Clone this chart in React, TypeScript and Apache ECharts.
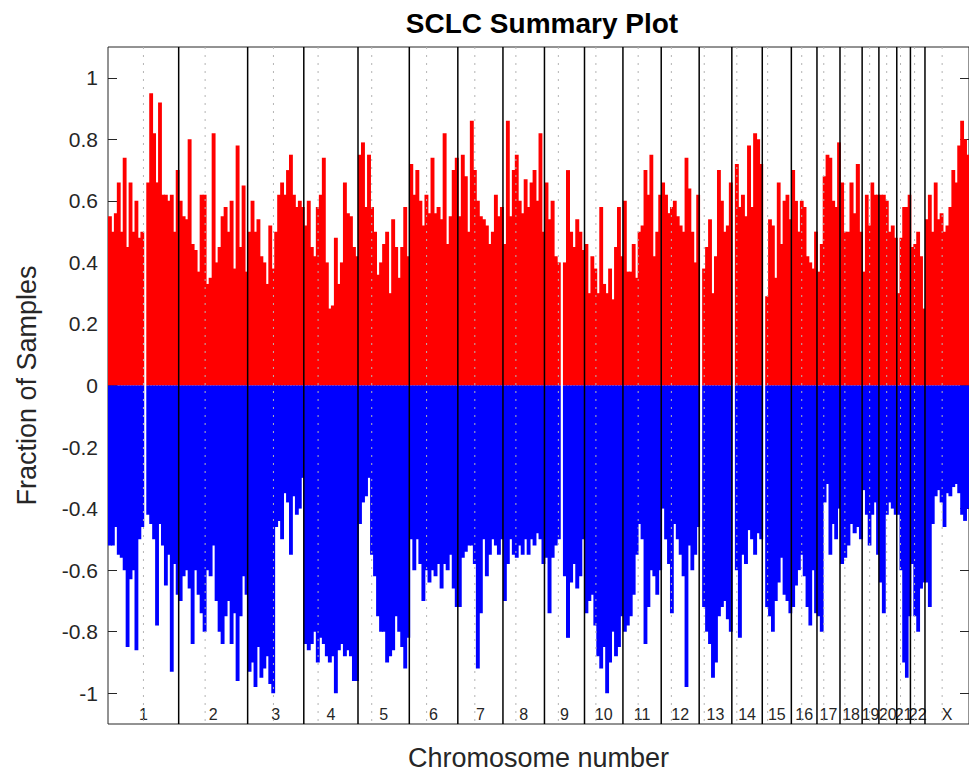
import React, { useEffect, useRef } from "react";
import * as echarts from "echarts";

// ---------- data ----------
const CHROMS = ["1","2","3","4","5","6","7","8","9","10","11","12","13","14","15","16","17","18","19","20","21","22","X"];
const CHROM_LEN_MB = [249.25,243.2,198.02,191.15,180.92,171.12,159.14,146.36,141.21,135.53,135.01,133.85,115.17,107.35,102.53,90.35,81.2,78.08,59.13,63.03,48.13,51.3,155.27];
const CENTROMERE_MB = [125.0,93.3,91.0,50.4,48.4,61.0,59.9,45.6,49.0,40.2,53.7,35.8,17.9,17.6,19.0,36.6,24.0,17.2,26.5,27.5,13.2,14.7,60.6];
const Y_TICKS = [-1,-0.8,-0.6,-0.4,-0.2,0,0.2,0.4,0.6,0.8,1];

// fraction of samples with gain, equal-width bins along each chromosome
const GAIN: number[][] = [
  [0.55,0.5,0.56,0.66,0.5,0.74,0.45,0.66,0.5,0.6,0.48,0.5,0,0.66,0.95,0.82,0.66,0.92,0.62,0.62,0.6,0.62,0.5,0.7],
  [0.6,0.55,0.54,0.8,0.46,0.44,0.37,0.62,0.62,0.33,0.35,0.82,0.4,0.45,0.55,0.58,0.5,0.6,0.38,0.78,0.45,0.65,0.37],
  [0.5,0.6,0.5,0.54,0.42,0.4,0.33,0.52,0.38,0.5,0.62,0.66,0.62,0.7,0.75,0.62,0.58,0.6,0.58],
  [0.52,0.6,0.45,0.42,0.58,0.62,0.74,0.4,0.25,0.26,0.48,0.33,0.4,0.66,0.56,0.55,0.45,0.42],
  [0.75,0.79,0.58,0.75,0.58,0.5,0.36,0.4,0.46,0.5,0.3,0.54,0.45,0.35,0.45,0.58,0.42],
  [0.72,0.62,0.7,0.6,0.52,0.62,0.56,0.74,0.56,0.58,0.54,0.82,0.46,0.55,0.7,0.74],
  [0.55,0.75,0.68,0.5,0.86,0.7,0.6,0.55,0.54,0.52,0.46,0.5,0.62,0.55,0.58],
  [0.46,0.86,0.55,0.7,0.75,0.6,0.56,0.67,0.58,0.66,0.7,0.6,0.82,0.5],
  [0.66,0.54,0.6,0.42,0.4,0,0.4,0.7,0.5,0.45,0.54,0.5,0.44],
  [0.46,0.3,0.42,0.38,0.3,0.58,0.33,0.3,0.38,0.28,0.45,0.58,0.42],
  [0.6,0.37,0.37,0.46,0.35,0.5,0.52,0.7,0.62,0.75,0.42,0.5,0.62],
  [0.66,0.62,0.56,0.58,0.6,0.55,0.52,0.5,0.74,0.64,0.5,0.4,0.62],
  [0,0.38,0.45,0.54,0.3,0.42,0.7,0.6,0.5,0.52,0.66],
  [0,0.72,0.58,0.62,0.55,0.78,0.58,0.82,0.8,0.72],
  [0,0.29,0.54,0.52,0.35,0.66,0.46,0.6,0.62,0.54],
  [0.7,0.6,0.5,0.6,0.58,0.42,0.4,0.38,0.5],
  [0.37,0.46,0.68,0.75,0.74,0.6,0.58,0.79],
  [0.66,0.5,0.5,0.66,0.56,0.72,0.5],
  [0.37,0.62,0.52,0.66,0.62,0.62],
  [0.62,0.62,0.6,0.5,0.52,0.48],
  [0.3,0.48,0.58,0.58,0.62],
  [0.45,0.46,0.5,0.42,0.25],
  [0.54,0.62,0.5,0.66,0.54,0.56,0.5,0.52,0.58,0.7,0.66,0.78,0.86,0.8,0.75],
];

// fraction of samples with loss (negative), same binning
const LOSS: number[][] = [
  [-0.52,-0.52,-0.46,-0.55,-0.56,-0.6,-0.85,-0.63,-0.6,-0.86,-0.5,-0.46,0,-0.42,-0.45,-0.5,-0.78,-0.45,-0.52,-0.65,-0.55,-0.93,-0.58,-0.68],
  [-0.7,-0.62,-0.6,-0.66,-0.84,-0.6,-0.68,-0.74,-0.8,-0.6,-0.62,-0.52,-0.7,-0.8,-0.84,-0.75,-0.7,-0.84,-0.74,-0.96,-0.75,-0.62,-0.68],
  [-0.93,-0.9,-0.98,-0.85,-0.95,-0.92,-0.88,-0.97,-1.0,-0.46,-0.44,-0.5,-0.35,-0.38,-0.55,-0.36,-0.42,-0.4,-0.3],
  [-0.84,-0.86,-0.84,-0.8,-0.9,-0.82,-0.84,-0.88,-0.9,-0.88,-1.0,-0.86,-0.84,-0.88,-0.86,-0.88,-0.96,-0.96],
  [-0.45,-0.38,-0.36,-0.3,-0.55,-0.62,-0.75,-0.8,-0.8,-0.9,-0.88,-0.86,-0.75,-0.8,-0.85,-0.92,-0.82],
  [-0.5,-0.6,-0.5,-0.58,-0.7,-0.6,-0.64,-0.6,-0.62,-0.58,-0.66,-0.58,-0.6,-0.55,-0.66,-0.72],
  [-0.72,-0.56,-0.54,-0.52,-0.52,-0.58,-0.92,-0.74,-0.5,-0.62,-0.55,-0.5,-0.52,-0.55,-0.5],
  [-0.7,-0.58,-0.5,-0.55,-0.56,-0.52,-0.55,-0.5,-0.55,-0.5,-0.52,-0.48,-0.5,-0.58],
  [-0.56,-0.74,-0.56,-0.52,-0.5,0,-0.62,-0.82,-0.64,-0.58,-0.66,-0.62,-0.5],
  [-0.74,-0.7,-0.68,-0.78,-0.88,-0.92,-0.85,-1.0,-0.9,-0.8,-0.88,-0.85,-0.75],
  [-0.8,-0.78,-0.75,-0.68,-0.55,-0.45,-0.5,-0.84,-0.72,-0.6,-0.62,-0.68,-0.6],
  [-0.4,-0.5,-0.58,-0.74,-0.45,-0.5,-0.55,-0.62,-0.98,-0.52,-0.6,-0.55,-0.46],
  [0,-0.72,-0.8,-0.84,-0.95,-0.9,-0.75,-0.72,-0.7,-0.76,-0.8],
  [0,-0.6,-0.82,-0.55,-0.58,-0.47,-0.5,-0.55,-0.48,-0.5],
  [0,-0.72,-0.75,-0.8,-0.7,-0.64,-0.56,-0.68,-0.7,-0.74],
  [-0.72,-0.65,-0.6,-0.55,-0.62,-0.72,-0.78,-0.6,-0.74],
  [-0.75,-0.8,-0.38,-0.32,-0.55,-0.45,-0.5,-0.4],
  [-0.58,-0.56,-0.52,-0.45,-0.48,-0.46,-0.5],
  [-0.34,-0.42,-0.52,-0.42,-0.38,-0.55],
  [-0.64,-0.74,-0.42,-0.38,-0.4,-0.42],
  [-0.42,-0.6,-0.9,-0.95,-0.75],
  [-0.58,-0.75,-0.8,-0.66,-0.64],
  [-0.64,-0.72,-0.45,-0.36,-0.34,-0.38,-0.46,-0.35,-0.36,-0.33,-0.32,-0.35,-0.42,-0.44,-0.4],
];

// ---------- derived ----------
const STARTS: number[] = [];
{
  let acc = 0;
  CHROM_LEN_MB.forEach((l) => { STARTS.push(acc); acc += l; });
}
const TOTAL = CHROM_LEN_MB.reduce((a, b) => a + b, 0);
const BOUNDARIES = STARTS.slice(1).map((s) => [s, 0]);
const CENTRO_POS = CENTROMERE_MB.map((c, i) => [STARTS[i] + c, 0]);
const MIDPOINTS = CHROM_LEN_MB.map((l, i) => STARTS[i] + l / 2);

function buildBins(values: number[][]) {
  const out: number[][] = [];
  values.forEach((arr, c) => {
    const w = CHROM_LEN_MB[c] / arr.length;
    arr.forEach((v, i) => out.push([STARTS[c] + i * w, STARTS[c] + (i + 1) * w, v]));
  });
  return out;
}

const FONT = "'Liberation Sans', Arial, Helvetica, sans-serif";
const AX = "#262626";

function barRender(color: string) {
  return (params: any, api: any) => {
    const p1 = api.coord([api.value(0), api.value(2)]);
    const p2 = api.coord([api.value(1), 0]);
    const y = Math.min(p1[1], p2[1]);
    const h = Math.abs(p2[1] - p1[1]);
    return {
      type: "rect",
      shape: { x: p1[0], y, width: p2[0] - p1[0] + 0.9, height: h },
      style: { fill: color },
    };
  };
}

function vLineRender(stroke: string, lineWidth: number, dash?: number[]) {
  return (params: any, api: any) => {
    const top = api.coord([api.value(0), 1.1]);
    const bot = api.coord([api.value(0), -1.1]);
    return {
      type: "line",
      shape: { x1: top[0], y1: top[1], x2: bot[0], y2: bot[1] },
      style: { stroke, lineWidth, lineDash: dash },
    };
  };
}

export default function App() {
  const ref = useRef<HTMLDivElement>(null);
  useEffect(() => {
    document.body.style.margin = "0";
    if (!ref.current) return;
    const chart = echarts.init(ref.current, undefined, { renderer: "svg" });
    const fmtY = (v: number) => String(Math.round(v * 10) / 10);
    chart.setOption({
      animation: false,
      backgroundColor: "#fff",
      grid: {
        left: 108, top: 47, width: 868, height: 683,
        show: true, borderColor: AX, borderWidth: 1, backgroundColor: "#fff",
      },
      graphic: [
        {
          type: "text", x: 542, y: 23, z: 10,
          style: {
            text: "SCLC Summary Plot", textAlign: "center", textVerticalAlign: "middle",
            font: `bold 28px ${FONT}`, fill: "#000",
          },
        },
      ],
      xAxis: {
        type: "value", min: 0, max: TOTAL,
        axisLine: { show: false }, axisTick: { show: false }, splitLine: { show: false },
        axisLabel: {
          inside: true, margin: 2, fontSize: 16, color: AX, fontFamily: FONT,
          customValues: MIDPOINTS,
          formatter: (v: number) => {
            let best = 0, d = Infinity;
            MIDPOINTS.forEach((m, i) => { if (Math.abs(m - v) < d) { d = Math.abs(m - v); best = i; } });
            return CHROMS[best];
          },
        },
        name: "Chromosome number", nameLocation: "middle", nameGap: 20,
        nameTextStyle: { fontSize: 27, color: AX, fontFamily: FONT, verticalAlign: "top" },
      },
      yAxis: [
        {
          type: "value", min: -1.1, max: 1.1, position: "left",
          axisLine: { show: false }, splitLine: { show: false },
          axisTick: { show: true, inside: true, length: 9, customValues: Y_TICKS, lineStyle: { color: AX } },
          axisLabel: { customValues: Y_TICKS, formatter: fmtY, fontSize: 21, color: AX, fontFamily: FONT, margin: 10 },
          name: "Fraction of Samples", nameLocation: "middle", nameGap: 68,
          nameTextStyle: { fontSize: 27, color: AX, fontFamily: FONT },
        },
        {
          type: "value", min: -1.1, max: 1.1, position: "right",
          axisLine: { show: false }, splitLine: { show: false },
          axisTick: { show: true, inside: true, length: 9, customValues: Y_TICKS, lineStyle: { color: AX } },
          axisLabel: { show: false },
        },
      ],
      series: [
        {
          type: "custom", name: "gain", renderItem: barRender("#ff0000"),
          data: buildBins(GAIN), encode: { x: [0, 1], y: 2 }, silent: true,
        },
        {
          type: "custom", name: "loss", renderItem: barRender("#0000ff"),
          data: buildBins(LOSS), encode: { x: [0, 1], y: 2 }, silent: true,
        },
        {
          type: "custom", name: "centromeres", renderItem: vLineRender("#b4b4b4", 1, [2, 6]),
          data: CENTRO_POS, encode: { x: 0, y: 1 }, silent: true, z: 3,
        },
        {
          type: "custom", name: "boundaries", renderItem: vLineRender("#000000", 1.5),
          data: BOUNDARIES, encode: { x: 0, y: 1 }, silent: true, z: 4,
        },
      ],
    });
    return () => chart.dispose();
  }, []);
  return <div ref={ref} style={{ width: 969, height: 776 }} />;
}
